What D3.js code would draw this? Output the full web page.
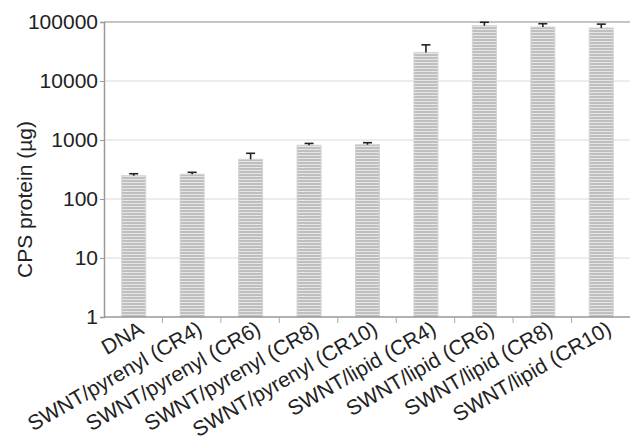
<!DOCTYPE html>
<html>
<head>
<meta charset="utf-8">
<script src="https://cdn.jsdelivr.net/npm/d3@7"></script>
<style>
  html, body { margin: 0; padding: 0; background: #fff; }
  svg { display: block; }
  text { font-family: "Liberation Sans", Arial, sans-serif; fill: #222; }
</style>
</head>
<body>
<svg id="chart" width="630" height="440"></svg>
<script>
// Sample groups
const categories = [
  "DNA",
  "SWNT/pyrenyl (CR4)",
  "SWNT/pyrenyl (CR6)",
  "SWNT/pyrenyl (CR8)",
  "SWNT/pyrenyl (CR10)",
  "SWNT/lipid (CR4)",
  "SWNT/lipid (CR6)",
  "SWNT/lipid (CR8)",
  "SWNT/lipid (CR10)"
];
// Mean CPS protein (µg)
const values = [248, 262, 470, 815, 830, 30500, 86500, 82000, 79000];
// Upper end of each error bar
const errorTop = [268, 283, 595, 875, 900, 41000, 99000, 93500, 92000];
// Y axis ticks
const yTicks = [1, 10, 100, 1000, 10000, 100000];

const svg = d3.select("#chart");
const margin = { left: 104, right: 0, top: 22, bottom: 123 };
const W = 630, H = 440;
const FS = "21px";

const x = d3.scaleBand()
  .domain(categories)
  .range([margin.left, W - margin.right])
  .paddingInner(0)
  .paddingOuter(0);

const y = d3.scaleLog()
  .domain([1, 100000])
  .range([H - margin.bottom, margin.top]);

// Striped bar fill
const defs = svg.append("defs");
const pat = defs.append("pattern")
  .attr("id", "stripes")
  .attr("patternUnits", "userSpaceOnUse")
  .attr("width", 6).attr("height", 3);
pat.append("rect").attr("width", 6).attr("height", 3).attr("fill", "#bfbfbf");
pat.append("rect").attr("y", 2).attr("width", 6).attr("height", 1).attr("fill", "#e6e6e6");

// Horizontal gridlines
svg.append("g")
  .selectAll("line")
  .data(yTicks.slice(1))
  .join("line")
  .attr("x1", margin.left).attr("x2", W - margin.right)
  .attr("y1", d => y(d)).attr("y2", d => y(d))
  .attr("stroke", d => d === 100000 ? "#b0b0b0" : "#dadada")
  .attr("stroke-width", d => d === 100000 ? 1.5 : 1);

// Y axis
const yAxis = svg.append("g")
  .attr("transform", `translate(${margin.left},0)`)
  .call(d3.axisLeft(y).tickValues(yTicks).tickFormat(d3.format("d")).tickSize(4).tickPadding(2));
yAxis.select(".domain").attr("stroke", "#999").attr("stroke-width", 1.5);
yAxis.selectAll(".tick line").attr("stroke", "#999");
yAxis.selectAll(".tick text")
  .style("font-size", FS)
  .style("font-family", "'Liberation Sans', Arial, sans-serif")
  .attr("fill", "#222");

// Bars
const bw = 24;
svg.append("g")
  .selectAll("rect")
  .data(categories)
  .join("rect")
  .attr("x", d => x(d) + x.bandwidth() / 2 - bw / 2 + 0.5)
  .attr("width", bw)
  .attr("y", (d, i) => y(values[i]))
  .attr("height", (d, i) => y(1) - y(values[i]))
  .attr("fill", "url(#stripes)")
  .attr("stroke", "#d4d4d4")
  .attr("stroke-width", 1);

// Error bars (upper only)
const eb = svg.append("g").attr("stroke", "#222").attr("stroke-width", 1.6);
categories.forEach((c, i) => {
  const cx = x(c) + x.bandwidth() / 2 + 0.5;
  eb.append("line")
    .attr("x1", cx).attr("x2", cx)
    .attr("y1", y(values[i])).attr("y2", y(errorTop[i]));
  eb.append("line")
    .attr("x1", cx - 4.5).attr("x2", cx + 4.5)
    .attr("y1", y(errorTop[i])).attr("y2", y(errorTop[i]));
});

// X axis
const xAxis = svg.append("g")
  .attr("transform", `translate(0,${y(1)})`);
xAxis.append("line")
  .attr("x1", margin.left).attr("x2", W - margin.right)
  .attr("y1", 0).attr("y2", 0)
  .attr("stroke", "#999").attr("stroke-width", 1.5);
xAxis.selectAll("line.sep")
  .data(categories.slice(1))
  .join("line")
  .attr("class", "sep")
  .attr("x1", d => x(d)).attr("x2", d => x(d))
  .attr("y1", 0).attr("y2", 6)
  .attr("stroke", "#aaa");
xAxis.selectAll("text")
  .data(categories)
  .join("text")
  .attr("transform", d => `translate(${x(d) + x.bandwidth() / 2 + 12},${16}) rotate(-30)`)
  .attr("text-anchor", "end")
  .style("font-size", FS)
  .text(d => d);

// Y axis title
svg.append("text")
  .attr("transform", `translate(32,${(y(1) + y(100000)) / 2 + 30}) rotate(-90)`)
  .attr("text-anchor", "middle")
  .style("font-size", FS)
  .text("CPS protein (µg)");
</script>
</body>
</html>
